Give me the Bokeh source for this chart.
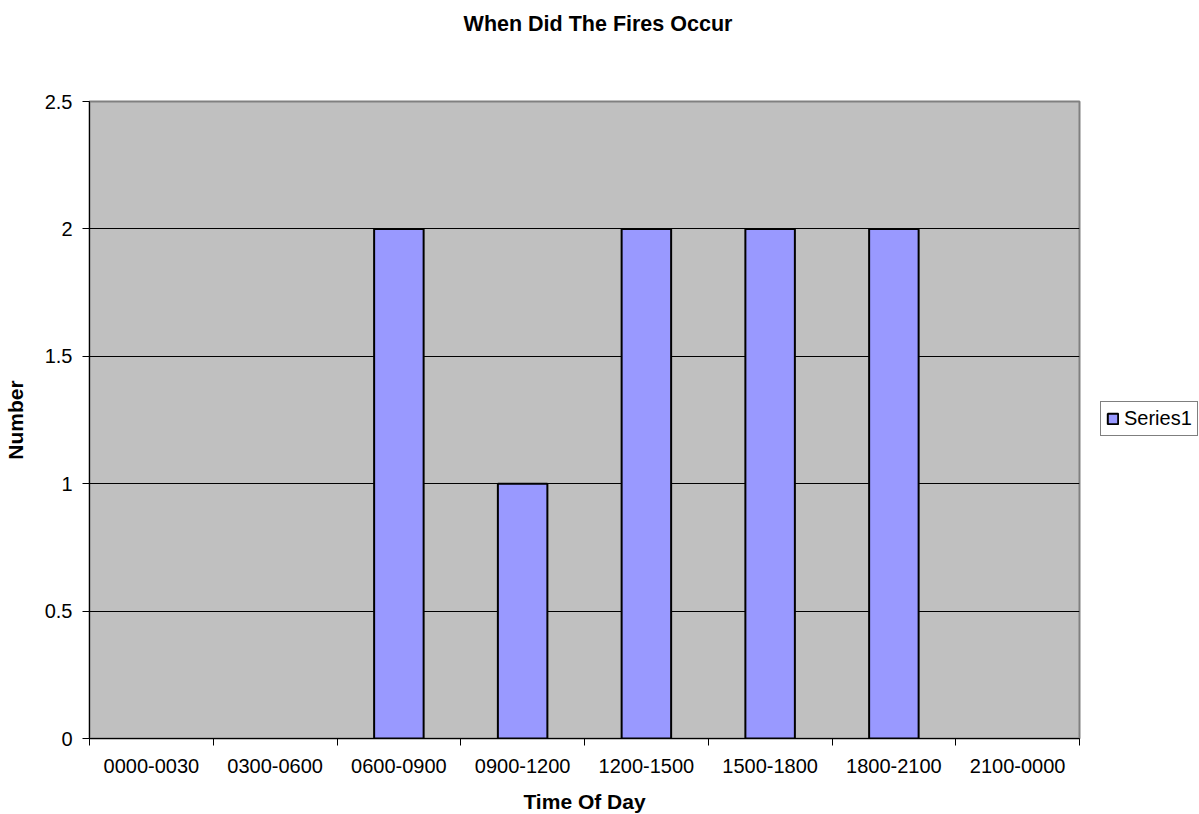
from bokeh.plotting import figure
from bokeh.layouts import column
from bokeh.models import (Range1d, FixedTicker, CustomJSTickFormatter, Legend, LegendItem,
                          ColumnDataSource, Div)
from bokeh.embed import file_html
from bokeh.resources import INLINE

title_text = "When Did The Fires Occur"
categories = ["0000-0030", "0300-0600", "0600-0900", "0900-1200",
              "1200-1500", "1500-1800", "1800-2100", "2100-0000"]
values = [0, 0, 2, 1, 2, 2, 2, 0]
series_name = "Series1"
y_ticks = [0, 0.5, 1, 1.5, 2, 2.5]

FONT = "Liberation Sans"

idx = [i for i, v in enumerate(values) if v > 0]
src = ColumnDataSource(dict(x=[i + 0.5 for i in idx], top=[values[i] for i in idx]))

title_div = Div(text=title_text, width=1186, height=38,
                styles={"font-family": FONT, "font-size": "21.5px", "font-weight": "bold",
                        "text-align": "center", "line-height": "39px", "color": "black"})

p = figure(width=1191, height=768, frame_width=990, frame_height=637,
           output_backend="svg", toolbar_location=None,
           x_range=Range1d(0, len(categories)), y_range=Range1d(0, 2.5),
           min_border_left=80, min_border_right=121, min_border_top=53, min_border_bottom=78)

p.background_fill_color = "#C0C0C0"
p.border_fill_color = "white"
p.outline_line_color = "#808080"
p.outline_line_width = 2

r = p.vbar(x="x", top="top", width=0.4, source=src, fill_color="#9999FF",
           line_color="black", line_width=2)

# x axis
xa = p.xaxis[0]
xa.ticker = FixedTicker(ticks=[i + 0.5 for i in range(len(categories))],
                        minor_ticks=list(range(len(categories) + 1)))
xa.major_label_overrides = {i + 0.5: c for i, c in enumerate(categories)}
xa.major_tick_line_color = None
xa.minor_tick_in = 0
xa.minor_tick_out = 7
xa.minor_tick_line_color = "black"
xa.axis_line_color = "black"
xa.major_label_text_font = FONT
xa.major_label_text_font_size = "20px"
xa.major_label_text_color = "black"
xa.major_label_standoff = 13
xa.axis_label = "Time Of Day"
xa.axis_label_text_font = FONT
xa.axis_label_text_font_size = "21px"
xa.axis_label_text_font_style = "bold"
xa.axis_label_text_color = "black"
xa.axis_label_standoff = 14

# y axis
ya = p.yaxis[0]
ya.ticker = FixedTicker(ticks=y_ticks)
ya.formatter = CustomJSTickFormatter(code="return tick.toString();")
ya.major_tick_in = 0
ya.major_tick_out = 7
ya.minor_tick_line_color = None
ya.axis_line_color = "black"
ya.major_label_text_font = FONT
ya.major_label_text_font_size = "20px"
ya.major_label_text_color = "black"
ya.major_label_standoff = 10
ya.axis_label = "Number"
ya.axis_label_text_font = FONT
ya.axis_label_text_font_size = "21px"
ya.axis_label_text_font_style = "bold"
ya.axis_label_text_color = "black"
ya.axis_label_standoff = 15

p.xgrid.grid_line_color = None
p.ygrid.ticker = FixedTicker(ticks=y_ticks)
p.ygrid.grid_line_color = "black"
p.ygrid.grid_line_width = 1

legend = Legend(items=[LegendItem(label=series_name, renderers=[r])],
                location=(21, 302), orientation="vertical")
legend.label_text_font = FONT
legend.label_text_font_size = "20px"
legend.label_text_color = "black"
legend.glyph_width = 13
legend.glyph_height = 13
legend.label_standoff = 5
legend.padding = 5
legend.margin = 0
legend.border_line_color = "black"
legend.border_line_width = 1
legend.background_fill_color = "white"
p.add_layout(legend, "right")

layout = column(title_div, p, spacing=0)
open("out.html", "w").write(file_html(layout, INLINE))
